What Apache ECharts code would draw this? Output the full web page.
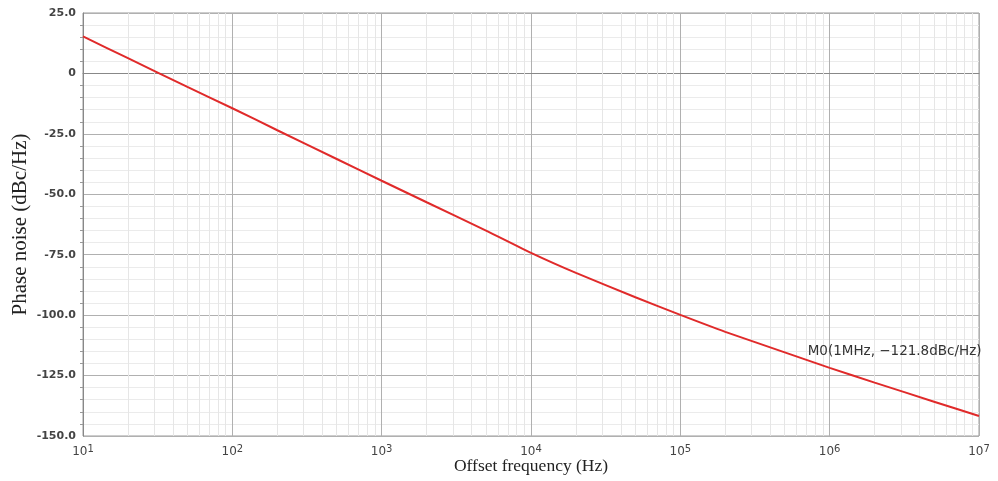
<!DOCTYPE html>
<html>
<head>
<meta charset="utf-8">
<script src="https://cdn.jsdelivr.net/npm/echarts@6/dist/echarts.min.js"></script>
<style>html,body{margin:0;padding:0;background:#fff;}#c{width:998px;height:481px;}</style>
</head>
<body>
<div id="c"></div>
<script>
// Offset frequency (Hz)
var freqs = [10, 20, 50, 100, 200, 500, 1000, 2000, 5000, 10000, 20000, 50000, 100000, 200000, 500000, 1000000, 2000000, 5000000, 10000000];
// Phase noise (dBc/Hz)
var phaseNoise = [15.3, 6.3, -5.6, -14.4, -23.5, -35.4, -44.4, -53.3, -65.0, -74.2, -82.5, -92.6, -99.9, -106.9, -115.4, -121.8, -127.9, -135.8, -141.7];
// minor grid frequencies
var minorFreqs = [20,30,40,50,60,70,80,90,200,300,400,500,600,700,800,900,2000,3000,4000,5000,6000,7000,8000,9000,20000,30000,40000,50000,60000,70000,80000,90000,200000,300000,400000,500000,600000,700000,800000,900000,2000000,3000000,4000000,5000000,6000000,7000000,8000000,9000000];
var markerLabel = 'M0(1MHz, \u2212121.8dBc/Hz)';
var markerPoint = [1000000, -121.8];

var chart = echarts.init(document.getElementById('c'), null, {renderer: 'canvas'});
var option = {
  animation: false,
  backgroundColor: '#fff',
  grid: {left: 83, right: 19, top: 13, bottom: 45, containLabel: false, outerBoundsMode: 'none', show: true, borderColor: '#9a9a9a', borderWidth: 1},
  xAxis: {
    type: 'log', logBase: 10, min: 10, max: 10000000,
    name: 'Offset frequency (Hz)', nameLocation: 'middle', nameGap: 21, nameMoveOverlap: false,
    nameTextStyle: {fontFamily: 'Liberation Serif', fontSize: 17.5, color: '#222'},
    axisLine: {show: true, lineStyle: {color: '#888', width: 1}},
    axisTick: {show: false},
    axisLabel: {
      fontFamily: 'DejaVu Sans', fontSize: 12, color: '#444', margin: 8,
      formatter: function (v) { return '10{s|' + Math.round(Math.log10(v)) + '}'; },
      rich: {s: {fontSize: 10, verticalAlign: 'top', color: '#444', fontFamily: 'DejaVu Sans', padding: [0,0,6,0]}}
    },
    splitLine: {show: true, lineStyle: {color: '#b0b0b0', width: 1}}
  },
  yAxis: {
    type: 'value', min: -150, max: 25, interval: 25,
    name: 'Phase noise (dBc/Hz)', nameLocation: 'middle', nameGap: 52, nameRotate: 90, nameMoveOverlap: false,
    nameTextStyle: {fontFamily: 'Liberation Serif', fontSize: 21, color: '#222'},
    axisLine: {show: true, lineStyle: {color: '#888', width: 1}},
    axisTick: {show: false},
    minorTick: {show: true, splitNumber: 5, length: 3, lineStyle: {color: '#999'}},
    axisLabel: {
      fontFamily: 'DejaVu Sans', fontSize: 11, color: '#444', margin: 7, fontWeight: 'bold',
      formatter: function (v) { return v === 0 ? '0' : v.toFixed(1); }
    },
    splitLine: {show: true, lineStyle: {color: '#b0b0b0', width: 1}},
    minorSplitLine: {show: true, lineStyle: {color: '#ebebeb', width: 1}}
  },
  series: [
    {
      type: 'line', data: [], silent: true, z: 1,
      markLine: {
        silent: true, symbol: 'none', animation: false,
        label: {show: false},
        lineStyle: {color: '#e6e6e6', width: 1, type: 'solid'},
        data: minorFreqs.map(function (f) { return {xAxis: f}; })
      }
    },
    {
      type: 'line', z: 5,
      data: freqs.map(function (f, i) { return [f, phaseNoise[i]]; }),
      smooth: 0.2, showSymbol: false, symbol: 'none',
      lineStyle: {color: '#e02a2a', width: 2},
      markPoint: {
        silent: true, symbol: 'circle', symbolSize: 0,
        label: {
          show: true, position: 'right', distance: 0, offset: [-22, -16],
          formatter: markerLabel, fontFamily: 'DejaVu Sans', fontSize: 13.5, color: '#333'
        },
        data: [{coord: markerPoint}]
      }
    }
  ]
};
chart.setOption(option);
</script>
</body>
</html>
